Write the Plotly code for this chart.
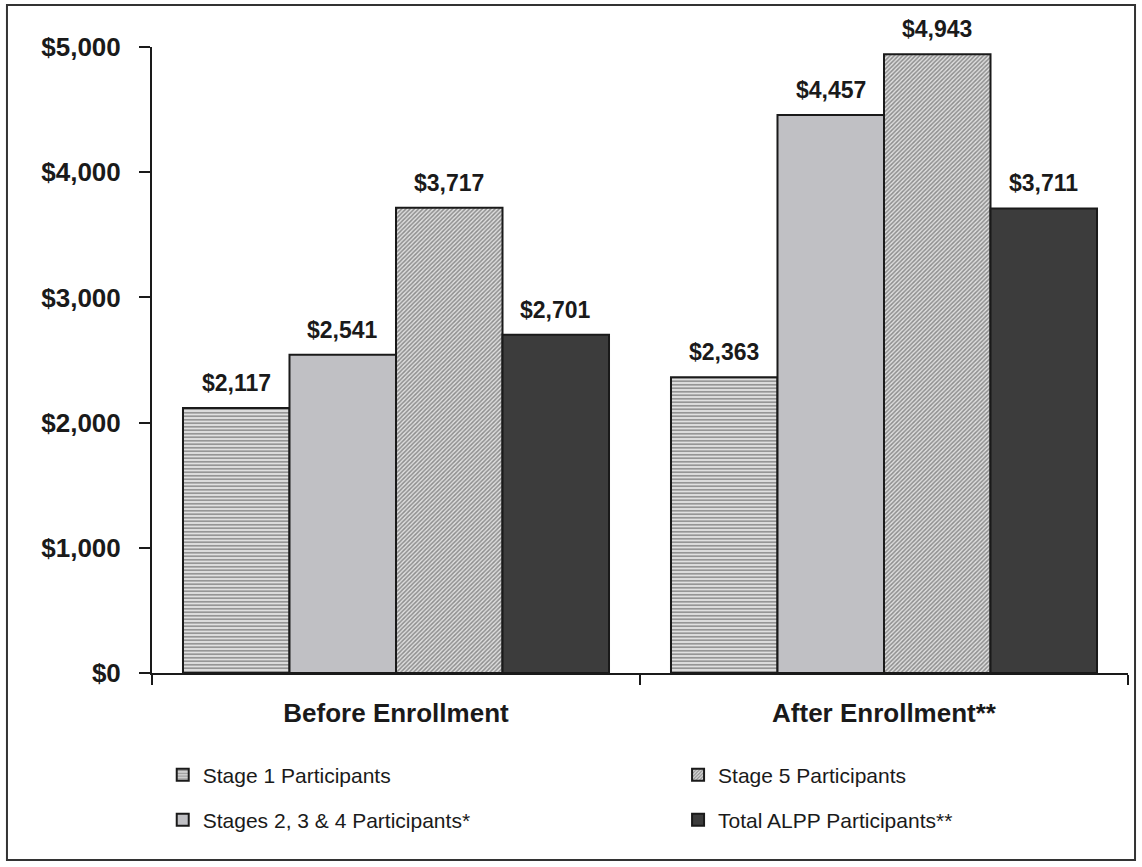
import plotly.graph_objects as go

categories = ["Before Enrollment", "After Enrollment**"]
series_names = ["Stage 1 Participants", "Stages 2, 3 & 4 Participants*",
                "Stage 5 Participants", "Total ALPP Participants**"]
stage1 = [2117, 2363]
stages234 = [2541, 4457]
stage5 = [3717, 4943]
total = [2701, 3711]
values = [stage1, stages234, stage5, total]

FONT = "Arial, Liberation Sans, sans-serif"
INK = "#1a1a1a"

styles = [
    dict(color="#ffffff", pattern=dict(shape="-", size=3.5, solidity=0.5, fgcolor="#4a4a4a", bgcolor="#e0e0e0", fillmode="overlay")),
    dict(color="#c0c0c4"),
    dict(color="#ffffff", pattern=dict(shape="/", size=3, solidity=0.5, fgcolor="#3a3a3a", bgcolor="#e0e0e0", fillmode="overlay")),
    dict(color="#3c3c3c"),
]
legend_ids = ["legend", "legend3", "legend2", "legend4"]

# layout geometry
W, H = 1142, 867
L, R, T, B = 152, 14, 47, 194
plot_w = W - L - R
bargap = 0.127
n_series = len(series_names)
bar_px = (plot_w / len(categories)) * (1 - bargap) / n_series

fig = go.Figure()
annotations = []
for i, (name, vals, st, lg) in enumerate(zip(series_names, values, styles, legend_ids)):
    marker = dict(color=st["color"], line=dict(color=INK, width=2))
    if "pattern" in st:
        marker["pattern"] = st["pattern"]
    fig.add_trace(go.Bar(x=categories, y=vals, name=name, marker=marker, legend=lg))
    for c, v in zip(categories, vals):
        annotations.append(dict(
            x=c, y=v, xref="x", yref="y", text="${:,}".format(v), showarrow=False,
            xshift=(i - (n_series - 1) / 2) * bar_px, yshift=10, yanchor="bottom",
            font=dict(family=FONT, size=23, color=INK, weight="bold")))

def leg(x, y):
    return dict(x=x, y=y, xanchor="left", yanchor="middle", orientation="v",
                bgcolor="rgba(0,0,0,0)", borderwidth=0, itemclick=False,
                font=dict(family=FONT, size=21, color=INK))

fig.update_layout(
    width=W, height=H,
    margin=dict(l=L, r=R, t=T, b=B, autoexpand=False),
    paper_bgcolor="white", plot_bgcolor="white",
    barmode="group", bargap=bargap, bargroupgap=0,
    font=dict(family=FONT, color=INK),
    showlegend=True,
    legend=leg(0.011, -0.163),
    legend2=leg(0.539, -0.163),
    legend3=leg(0.011, -0.235),
    legend4=leg(0.539, -0.235),
    xaxis=dict(showline=True, linecolor=INK, linewidth=2, ticks="outside",
               tickson="boundaries", ticklen=10, tickwidth=2, tickcolor=INK,
               ticklabelstandoff=16,
               tickfont=dict(family=FONT, size=26, color=INK, weight="bold")),
    yaxis=dict(range=[0, 5000], dtick=1000, tickprefix="$", tickformat=",",
               showgrid=False, zeroline=False, showline=True, linecolor=INK,
               linewidth=2, ticks="outside", ticklen=11, tickwidth=2, tickcolor=INK,
               ticklabelstandoff=13,
               tickfont=dict(family=FONT, size=26, color=INK, weight="bold")),
    annotations=annotations,
    shapes=[dict(type="rect", xref="paper", yref="paper",
                 x0=-0.1486, x1=1.0072, y0=-0.2987, y1=1.067,
                 line=dict(color="#333333", width=2))],
)

fig.write_html("out.html")
